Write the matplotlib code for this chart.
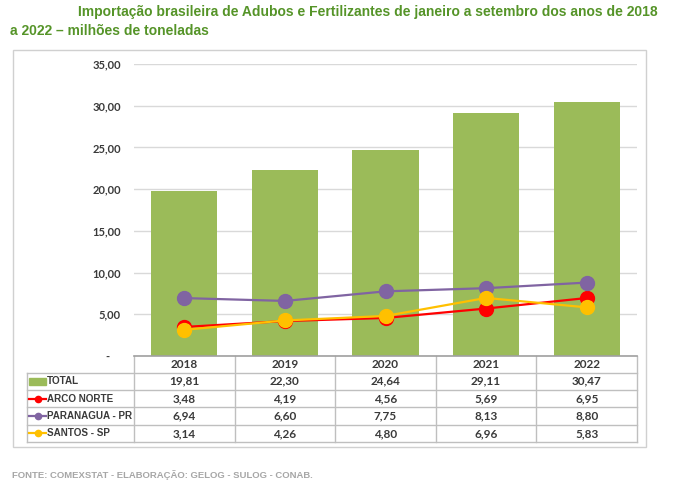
import matplotlib
matplotlib.use('Agg')
import matplotlib.pyplot as plt
from matplotlib.patches import Rectangle
from matplotlib.lines import Line2D

# dados: milhões de toneladas, janeiro a setembro
anos = ['2018', '2019', '2020', '2021', '2022']
total = [19.81, 22.30, 24.64, 29.11, 30.47]
arco_norte = [3.48, 4.19, 4.56, 5.69, 6.95]
paranagua = [6.94, 6.60, 7.75, 8.13, 8.80]
santos = [3.14, 4.26, 4.80, 6.96, 5.83]

series_nomes = ['ARCO NORTE', 'PARANAGUA - PR', 'SANTOS - SP']
series_valores = [arco_norte, paranagua, santos]
series_cores = ['#FF0000', '#8064A2', '#FFC000']
cor_barra = '#9BBB59'
yticks = [0, 5, 10, 15, 20, 25, 30, 35]

W, H = 674, 503
fig = plt.figure(figsize=(W / 100, H / 100), dpi=100)

# camada em pixels para caixa, tabela e textos
bg = fig.add_axes([0, 0, 1, 1])
bg.set_xlim(0, W)
bg.set_ylim(H, 0)
bg.axis('off')

bg.add_patch(Rectangle((13, 50), 633, 397, fill=False, ec='#D0D0D0', lw=1))

titulo_cor = '#559428'
bg.text(78, 12, 'Importação brasileira de Adubos e Fertilizantes de janeiro a setembro dos anos de 2018',
        fontsize=10, fontweight='bold', color=titulo_cor, va='center', family='Liberation Sans')
bg.text(10, 31, 'a 2022 – milhões de toneladas',
        fontsize=10, fontweight='bold', color=titulo_cor, va='center', family='Liberation Sans')
bg.text(12, 475, 'FONTE: COMEXSTAT - ELABORAÇÃO: GELOG - SULOG - CONAB.',
        fontsize=6.8, fontweight='bold', color='#A6A6A6', va='center', family='Liberation Sans')

# grafico principal
x0, x1 = 134, 637
y_top, y_zero = 64, 356
ax = fig.add_axes([x0 / W, 1 - y_zero / H, (x1 - x0) / W, (y_zero - y_top) / H])
pos = list(range(len(anos)))
ax.bar(pos, total, width=0.66, color=cor_barra, zorder=2)
for vals, cor in zip(series_valores, series_cores):
    ax.plot(pos, vals, color=cor, lw=1.6, marker='o', markersize=10, zorder=3)
ax.set_xlim(-0.5, len(anos) - 0.5)
ax.set_ylim(0, 35)
ax.set_yticks(yticks)
ax.set_yticklabels(['-    ' if v == 0 else f'{v:.2f}'.replace('.', ',') for v in yticks],
                   fontsize=8, fontweight='bold', color='#3A3A3A', family='Lato')
ax.set_xticks([])
ax.tick_params(axis='y', length=0, pad=9.5)
ax.grid(axis='y', color='#D9D9D9', lw=1, zorder=0)
for s in ['top', 'right', 'left']:
    ax.spines[s].set_visible(False)
ax.spines['bottom'].set_color('#A0A0A0')
ax.spines['bottom'].set_linewidth(1.2)
ax.patch.set_alpha(0)

# tabela de dados
col_w = (x1 - x0) / len(anos)
head_h = 16.5
row_h = 17.4
lab_x = 27
linha = '#BFBFBF'
n_rows = 4
y_bot = y_zero + head_h + n_rows * row_h
bg.plot([x0, x0], [y_zero, y_bot], color=linha, lw=1)
for i in range(1, len(anos) + 1):
    bg.plot([x0 + i * col_w] * 2, [y_zero, y_bot], color=linha, lw=1)
bg.plot([lab_x, lab_x], [y_zero + head_h, y_bot], color=linha, lw=1)
for r in range(n_rows + 1):
    bg.plot([lab_x, x1], [y_zero + head_h + r * row_h] * 2, color=linha, lw=1)

fonte_tab = dict(fontsize=8.5, fontweight='bold', color='#3A3A3A', family='Lato',
                 va='center')
fonte_lab = dict(fonte_tab, fontsize=8.5, family=['Liberation Sans Narrow', 'Liberation Sans'])
for i, ano in enumerate(anos):
    bg.text(x0 + (i + 0.5) * col_w, y_zero + 0.5 * head_h, ano, ha='center', **fonte_tab)

rotulos = []
linhas_tab = [('TOTAL', total, None)] + list(zip(series_nomes, series_valores, series_cores))
for r, (nome, vals, cor) in enumerate(linhas_tab):
    yc = y_zero + head_h + (r + 0.5) * row_h
    if cor is None:
        bg.add_patch(Rectangle((lab_x + 2, yc - 3.5), 17, 7, color=cor_barra))
    else:
        bg.add_line(Line2D([lab_x + 2, lab_x + 19], [yc, yc], color=cor, lw=1.6))
        bg.plot([lab_x + 10.5], [yc], marker='o', markersize=4.5, color=cor)
    rotulos.append(bg.text(lab_x + 20, yc, nome, ha='left', **fonte_lab))
    for i, v in enumerate(vals):
        bg.text(x0 + (i + 0.5) * col_w, yc, f'{v:.2f}'.replace('.', ','), ha='center', **fonte_tab)

# ajusta o tamanho dos rotulos para caber na primeira coluna
renderer = fig.canvas.get_renderer()
maior = max(t.get_window_extent(renderer).width for t in rotulos)
alvo = x0 - 2 - (lab_x + 20)
if maior > alvo:
    for t in rotulos:
        t.set_fontsize(fonte_lab['fontsize'] * alvo / maior)

fig.savefig('out.png', dpi=100)
